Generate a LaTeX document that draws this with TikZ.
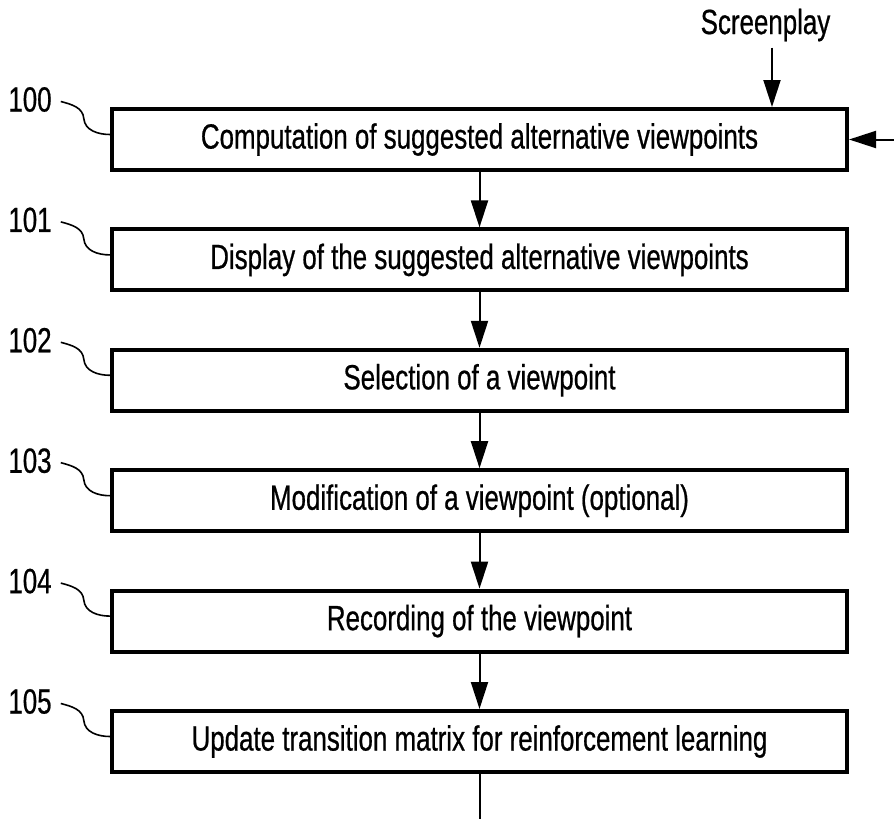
\documentclass[tikz,border=0pt]{standalone}
\usepackage{fontspec}
\setmainfont[FakeStretch=0.74,FakeBold=0.6]{Liberation Sans}
\usetikzlibrary{positioning,arrows.meta,calc}

\begin{document}
\begin{tikzpicture}[x=1pt,y=1pt,
    stepbox/.style={draw, rectangle, line width=4pt, minimum width=735pt, minimum height=61pt, inner sep=0pt, font=\fontsize{35}{40}\selectfont},
    reflabel/.style={inner sep=0pt, font=\fontsize{35}{40}\selectfont},
    flow/.style={line width=2pt, -{Triangle[length=27pt,width=17pt]}},
    lead/.style={line width=1.6pt}]
    \useasboundingbox (0,0) rectangle (894,-819);

    % Define steps
    \node[stepbox] (s100) at (479.5,-139.5) {Computation of suggested alternative viewpoints};
    \node[stepbox] (s101) at (479.5,-259.9) {Display of the suggested alternative viewpoints};
    \node[stepbox] (s102) at (479.5,-380.3) {Selection of a viewpoint};
    \node[stepbox] (s103) at (479.5,-500.7) {Modification of a viewpoint (optional)};
    \node[stepbox] (s104) at (479.5,-621.1) {Recording of the viewpoint};
    \node[stepbox] (s105) at (479.5,-741.5) {Update transition matrix for reinforcement learning};

    % Reference numerals
    \node[reflabel] (l100) at (30,-99.5) {100};
    \node[reflabel] (l101) at (30,-219.9) {101};
    \node[reflabel] (l102) at (30,-340.3) {102};
    \node[reflabel] (l103) at (30,-460.7) {103};
    \node[reflabel] (l104) at (30,-581.1) {104};
    \node[reflabel] (l105) at (30,-701.5) {105};

    % Leader lines
    \draw[lead] ([xshift=9pt,yshift=-2pt]l100.east) to[out=-15,in=95] ++(23,-17) to[out=-85,in=180] ([yshift=5pt]s100.west);
    \draw[lead] ([xshift=9pt,yshift=-2pt]l101.east) to[out=-15,in=95] ++(23,-17) to[out=-85,in=180] ([yshift=5pt]s101.west);
    \draw[lead] ([xshift=9pt,yshift=-2pt]l102.east) to[out=-15,in=95] ++(23,-17) to[out=-85,in=180] ([yshift=5pt]s102.west);
    \draw[lead] ([xshift=9pt,yshift=-2pt]l103.east) to[out=-15,in=95] ++(23,-17) to[out=-85,in=180] ([yshift=5pt]s103.west);
    \draw[lead] ([xshift=9pt,yshift=-2pt]l104.east) to[out=-15,in=95] ++(23,-17) to[out=-85,in=180] ([yshift=5pt]s104.west);
    \draw[lead] ([xshift=9pt,yshift=-2pt]l105.east) to[out=-15,in=95] ++(23,-17) to[out=-85,in=180] ([yshift=5pt]s105.west);

    % Inputs
    \node[reflabel] (screen) at (765.5,-25) {Screenplay};
    \coordinate (sp) at ([xshift=292.5pt]s100.north);
    \coordinate (feed) at (894,-139.5);
    \draw[flow, shorten <=6pt] (screen.south -| sp) -- (sp);
    \draw[flow] (feed) -- (s100.east);

    % Arrows
    \draw[flow] (s100) -- (s101);
    \draw[flow] (s101) -- (s102);
    \draw[flow] (s102) -- (s103);
    \draw[flow] (s103) -- (s104);
    \draw[flow] (s104) -- (s105);

    % Output
    \coordinate (out) at (479.5,-819);
    \draw[line width=2pt] (s105) -- (out);
\end{tikzpicture}
\end{document}
